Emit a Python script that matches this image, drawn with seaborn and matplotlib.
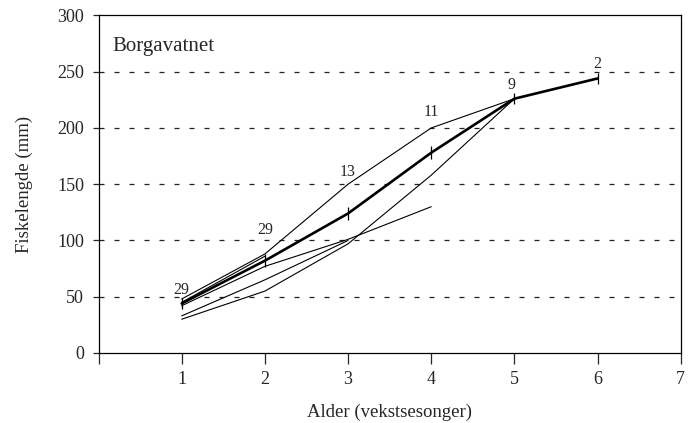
import matplotlib
matplotlib.use("Agg")
import matplotlib.pyplot as plt
import numpy as np
import pandas as pd
import seaborn as sns

# Mean length at age (mm) with error, and number of fish per age
ages = [1, 2, 3, 4, 5, 6]
mean_length = [44, 82, 124, 178, 226, 244]
length_err = [5, 6, 6, 6, 5, 5]
n_fish = [29, 29, 13, 11, 9, 2]

# Back-calculated growth of the individual age groups
group_a = [45, 86]
group_b = [33, 65, 100]
group_c = [42, 77, 101, 130]
group_d = [48, 88, 150, 200, 226]
group_e = [30, 55, 97, 158, 226]

groups = {"a": group_a, "b": group_b, "c": group_c, "d": group_d, "e": group_e}

rows = []
for name, vals in groups.items():
    for i, v in enumerate(vals):
        rows.append({"gruppe": name, "alder": ages[i], "lengde": v})
growth = pd.DataFrame(rows)
means = pd.DataFrame({"alder": ages, "lengde": mean_length, "feil": length_err})

sns.set_style("ticks")
plt.rcParams["font.family"] = ["Liberation Serif", "DejaVu Serif"]

fig = plt.figure(figsize=(6.89, 4.23), dpi=100)
ax = fig.add_axes([0.143, 0.1655, 0.845, 0.798])

# dashed reference lines
for yv in [50, 100, 150, 200, 250]:
    ax.axhline(yv, color="#222222", lw=0.9, ls=(0, (4, 8)), zorder=0)

sns.lineplot(data=growth, x="alder", y="lengde", units="gruppe", estimator=None,
             color="black", lw=0.8, ax=ax, legend=False)
sns.lineplot(data=means, x="alder", y="lengde", color="black", lw=1.9, ax=ax,
             legend=False, zorder=3)
ax.errorbar(means["alder"], means["lengde"], yerr=means["feil"], fmt="none",
            ecolor="black", elinewidth=0.9, capsize=0, zorder=4)

# sample sizes above each age
label_y = [56, 109, 161, 214, 238, 257]
label_x = [1, 2, 3, 4, 4.97, 6]
for x, ly, n in zip(label_x, label_y, n_fish):
    ax.text(x, ly, str(n), ha="center", va="center", fontsize=11.5)

ax.text(0.17, 272, "Borgavatnet", ha="left", va="center", fontsize=15)

ax.set_xlim(0, 7)
ax.set_ylim(0, 300)
ax.set_xticks(range(0, 8))
ax.set_xticklabels([""] + [str(i) for i in range(1, 8)])
ax.set_yticks(range(0, 301, 50))
ax.tick_params(axis="x", direction="out", length=8, width=0.9, pad=5, labelsize=13)
ax.tick_params(axis="y", direction="out", length=4, width=0.9, pad=6.5, labelsize=13)
for sp in ax.spines.values():
    sp.set_visible(True)
    sp.set_linewidth(0.9)
    sp.set_color("black")

ax.set_xlabel("Alder (vekstsesonger)", fontsize=13.5, labelpad=11)
ax.set_ylabel("Fiskelengde (mm)", fontsize=13.5, labelpad=17)

fig.savefig("out.png", dpi=100)
